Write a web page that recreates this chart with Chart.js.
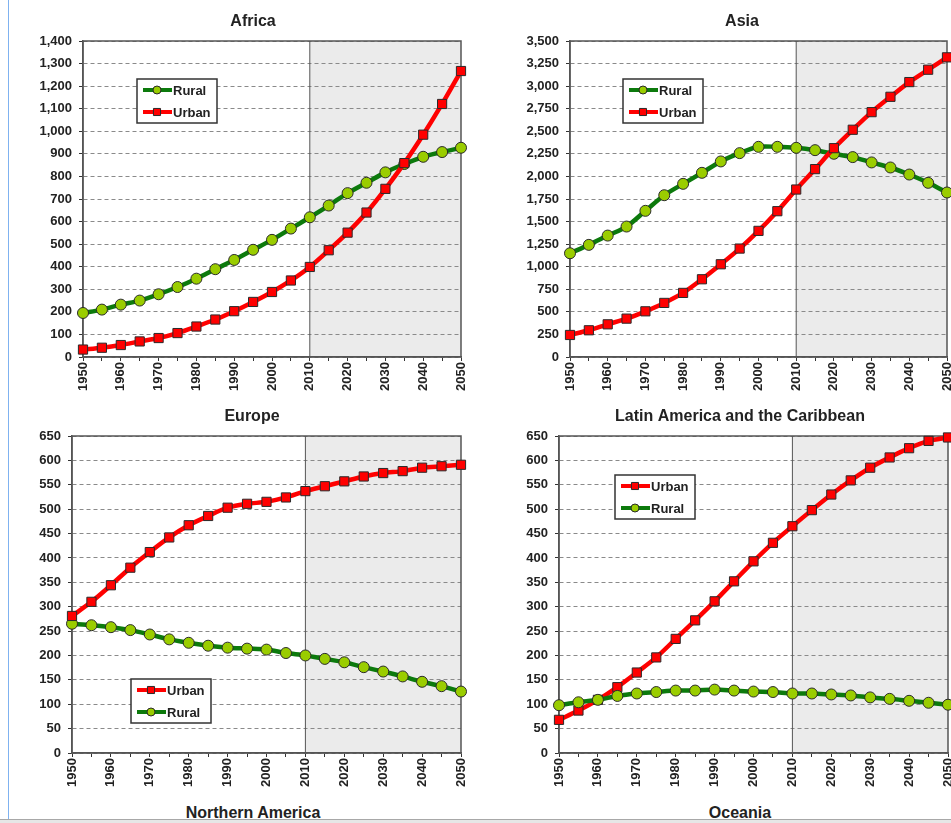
<!DOCTYPE html>
<html>
<head>
<meta charset="utf-8">
<script src="https://cdn.jsdelivr.net/npm/chart.js@4.4.1/dist/chart.umd.min.js"></script>
<style>
  html, body { margin: 0; padding: 0; background: #fff; overflow: hidden; width: 951px; height: 823px; }
  body { position: relative; font-family: "Liberation Sans", Arial, sans-serif; }
  canvas { position: absolute; }
  .edge { position: absolute; left: 8px; top: 0; width: 1px; height: 823px; background: #7fb2f0; }
  .cut { position: absolute; top: 803px; font-weight: bold; font-size: 16px; line-height: 19px; color: #222; transform: translateX(-50%); white-space: nowrap; }
  .bar { position: absolute; left: 0; top: 819px; width: 951px; height: 4px; background: #e6e6e6; border-top: 1px solid #a8a8a8; }
</style>
</head>
<body>
<div class="edge"></div>
<canvas id="africa" width="470" height="402" style="left:10px;top:0px"></canvas>
<canvas id="asia" width="470" height="402" style="left:497px;top:0px"></canvas>
<canvas id="europe" width="470" height="403" style="left:10px;top:395px"></canvas>
<canvas id="latin" width="470" height="403" style="left:497px;top:395px"></canvas>
<div class="cut" style="left:253px">Northern America</div>
<div class="cut" style="left:740px">Oceania</div>
<div class="bar"></div>
<script>
// population in millions
const years = [1950, 1955, 1960, 1965, 1970, 1975, 1980, 1985, 1990, 1995, 2000,
  2005, 2010, 2015, 2020, 2025, 2030, 2035, 2040, 2045, 2050]

const africaRural = [195, 210, 232, 250, 278, 310, 347, 389, 430, 475, 519, 569, 619, 671, 726, 772, 818, 855, 887, 908, 927]
const africaUrban = [33, 41, 53, 69, 84, 106, 135, 166, 203, 244, 288, 339, 399, 473, 551, 640, 745, 859, 985, 1121, 1267]

const asiaRural = [1149, 1242, 1345, 1445, 1619, 1792, 1918, 2040, 2166, 2258, 2328, 2328, 2317, 2291, 2251, 2214, 2155, 2099, 2021, 1929, 1822]
const asiaUrban = [244, 296, 362, 425, 506, 599, 710, 861, 1027, 1201, 1397, 1615, 1855, 2081, 2313, 2517, 2712, 2882, 3045, 3182, 3319]

const europeUrban = [281, 310, 344, 380, 412, 442, 467, 486, 503, 511, 515, 524, 537, 547, 557, 567, 574, 578, 585, 588, 591]
const europeRural = [265, 262, 258, 252, 243, 233, 226, 220, 216, 214, 212, 205, 200, 193, 186, 176, 167, 157, 146, 137, 126]

const latinUrban = [68, 87, 109, 135, 165, 196, 234, 272, 311, 352, 393, 431, 465, 498, 530, 559, 585, 606, 625, 640, 647]
const latinRural = [98, 104, 109, 117, 122, 125, 128, 128, 130, 128, 126, 125, 122, 122, 120, 118, 114, 111, 107, 103, 99]

const projectionStart = 2010

const FONT = '"Liberation Sans", Arial, sans-serif'
const TEXT = '#222'
const GREEN = '#0c7a0c'
const LIME = '#9acd00'
const RED = '#ff0000'

function series(label, data) {
  const urban = label === 'Urban'
  return {
    label: label,
    data: data,
    borderColor: urban ? RED : GREEN,
    backgroundColor: urban ? RED : LIME,
    pointBackgroundColor: urban ? RED : LIME,
    pointBorderColor: '#2a2a2a',
    pointBorderWidth: 1,
    pointStyle: urban ? 'rect' : 'circle',
    pointRadius: urban ? 6.5 : 5.5,
    borderWidth: 4.5,
    tension: 0.3,
    clip: false
  }
}

// grey projection area, frame and the 2010 divider
const panelFrame = {
  id: 'panelFrame',
  beforeDraw(chart) {
    const a = chart.chartArea
    const x0 = chart.scales.x.getPixelForValue(years.indexOf(projectionStart))
    const ctx = chart.ctx
    ctx.save()
    ctx.fillStyle = '#ebebeb'
    ctx.fillRect(x0, a.top, a.right - x0, a.bottom - a.top)
    ctx.restore()
  },
  beforeDatasetsDraw(chart) {
    const a = chart.chartArea
    const x0 = chart.scales.x.getPixelForValue(years.indexOf(projectionStart))
    const ctx = chart.ctx
    ctx.save()
    ctx.strokeStyle = '#555'
    ctx.lineWidth = 1
    ctx.beginPath()
    ctx.moveTo(x0, a.top)
    ctx.lineTo(x0, a.bottom)
    ctx.stroke()
    ctx.lineWidth = 1.5
    ctx.strokeRect(a.left, a.top, a.right - a.left, a.bottom - a.top)
    ctx.restore()
  }
}

// panel title, centred where the original puts it
const panelTitle = {
  id: 'panelTitle',
  afterDraw(chart, args, opts) {
    const ctx = chart.ctx
    ctx.save()
    ctx.fillStyle = TEXT
    ctx.font = 'bold 16px ' + FONT
    ctx.textAlign = 'center'
    ctx.textBaseline = 'middle'
    ctx.fillText(opts.text, opts.x, opts.y)
    ctx.restore()
  }
}

// legend box inside the plot, line sample with marker
const boxLegend = {
  id: 'boxLegend',
  afterDraw(chart, args, opts) {
    const a = chart.chartArea
    const ctx = chart.ctx
    const bx = a.left + opts.dx
    const by = a.top + opts.dy
    ctx.save()
    ctx.fillStyle = '#fff'
    ctx.fillRect(bx, by, 80, 44)
    ctx.strokeStyle = '#333'
    ctx.lineWidth = 1.5
    ctx.strokeRect(bx, by, 80, 44)
    opts.order.forEach(function (name, i) {
      const ds = chart.data.datasets.find(d => d.label === name)
      const y = by + 11 + i * 22
      ctx.strokeStyle = ds.borderColor
      ctx.lineWidth = 4
      ctx.beginPath()
      ctx.moveTo(bx + 6, y)
      ctx.lineTo(bx + 35, y)
      ctx.stroke()
      ctx.fillStyle = ds.pointBackgroundColor
      ctx.strokeStyle = ds.pointBorderColor
      ctx.lineWidth = 1
      Chart.helpers.drawPoint(ctx, {
        pointStyle: ds.pointStyle,
        radius: ds.pointStyle === 'rect' ? 5 : 4,
        borderWidth: 1,
        rotation: 0
      }, bx + 20, y)
      ctx.fillStyle = TEXT
      ctx.font = 'bold 13px ' + FONT
      ctx.textBaseline = 'middle'
      ctx.textAlign = 'left'
      ctx.fillText(name, bx + 36, y + 1)
    })
    ctx.restore()
  }
}

function panel(id, title, datasets, yMax, yStep, padRight, yWidth, titleX, legend) {
  new Chart(document.getElementById(id), {
    type: 'line',
    data: { labels: years, datasets: datasets },
    plugins: [panelFrame, panelTitle, boxLegend],
    options: {
      responsive: false,
      animation: false,
      layout: { padding: { left: 0, right: padRight, top: 41, bottom: 0 } },
      plugins: {
        legend: { display: false },
        tooltip: { enabled: false },
        title: { display: false },
        panelTitle: { text: title, x: titleX, y: 21.5 },
        boxLegend: legend
      },
      scales: {
        x: {
          afterFit: function (scale) {
            scale.height = 45
            scale.paddingLeft = 0
            scale.paddingRight = 0
          },
          grid: { drawOnChartArea: false, tickLength: 4, tickColor: '#333' },
          border: { color: '#555', width: 1.5 },
          ticks: {
            autoSkip: false,
            maxRotation: 90,
            minRotation: 90,
            padding: 1,
            color: TEXT,
            font: { family: FONT, size: 13, weight: 'bold' },
            callback: function (v, i) {
              return years[i] % 10 === 0 ? String(years[i]) : ''
            }
          }
        },
        y: {
          min: 0,
          max: yMax,
          afterFit: function (scale) {
            scale.width = yWidth
            scale.paddingTop = 0
            scale.paddingBottom = 0
          },
          grid: { color: '#8a8a8a', tickLength: 4, tickColor: '#333', tickBorderDash: [] },
          border: { color: '#555', width: 1.5, dash: [4, 3] },
          ticks: {
            stepSize: yStep,
            padding: 7,
            color: TEXT,
            font: { family: FONT, size: 13, weight: 'bold' },
            callback: v => v.toLocaleString('en-US')
          }
        }
      }
    }
  })
}

panel('africa', 'Africa', [series('Urban', africaUrban), series('Rural', africaRural)],
  1400, 100, 19, 73, 243, { dx: 54, dy: 38, order: ['Rural', 'Urban'] })

panel('asia', 'Asia', [series('Urban', asiaUrban), series('Rural', asiaRural)],
  3500, 250, 20, 73, 245, { dx: 53, dy: 38, order: ['Rural', 'Urban'] })

panel('europe', 'Europe', [series('Urban', europeUrban), series('Rural', europeRural)],
  650, 50, 19, 62, 242, { dx: 59, dy: 243, order: ['Urban', 'Rural'] })

panel('latin', 'Latin America and the Caribbean', [series('Rural', latinRural), series('Urban', latinUrban)],
  650, 50, 19, 62, 243, { dx: 56, dy: 39, order: ['Urban', 'Rural'] })
</script>
</body>
</html>
